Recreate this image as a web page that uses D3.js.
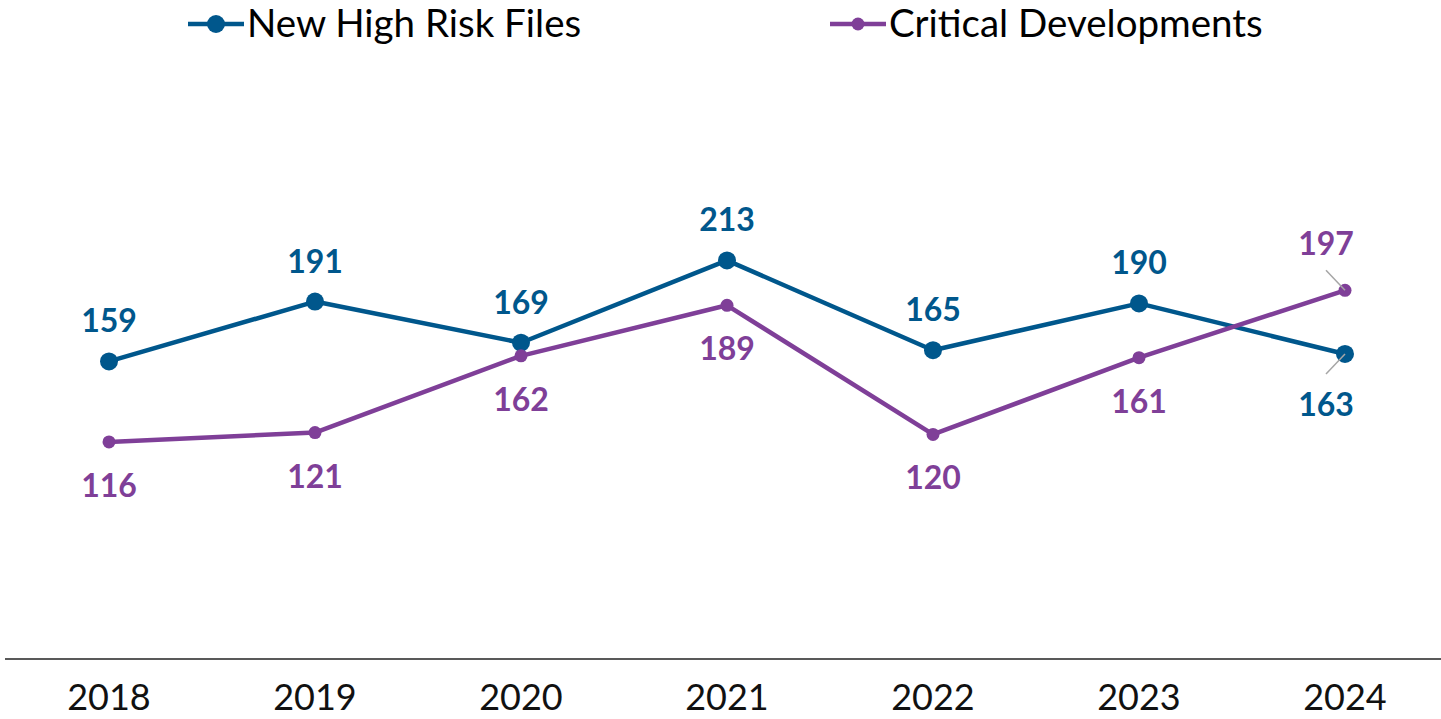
<!DOCTYPE html>
<html>
<head>
<meta charset="utf-8">
<script src="https://cdn.jsdelivr.net/npm/d3@7"></script>
<style>
  body { margin: 0; background: #fff; }
  text { font-family: Lato, "Open Sans", sans-serif; }
</style>
</head>
<body>
<div id="chart"></div>
<script>
"use strict"

const years = ["2018", "2019", "2020", "2021", "2022", "2023", "2024"];
const highRisk = [159, 191, 169, 213, 165, 190, 163];
const critical = [116, 121, 162, 189, 120, 161, 197];
// label side: -1 above, 1 below
const highRiskSide = [-1, -1, -1, -1, -1, -1, 1];
const criticalSide = [1, 1, 1, 1, 1, 1, -1];

const W = 1441, H = 719;
const blue = "#00578c", purple = "#7f3f98";

let svg = d3.select("#chart").append("svg")
    .attr("width", W)
    .attr("height", H);

let x = d3.scalePoint()
    .domain(years)
    .range([109, 1345]);

let y = d3.scaleLinear()
    .domain([0, 350])
    .range([659, 4]);

// baseline
svg.append("line")
    .attr("x1", 5).attr("x2", W)
    .attr("y1", y(0)).attr("y2", y(0))
    .style("stroke", "#222")
    .style("stroke-width", 1.5);

svg.selectAll(".year")
    .data(years)
    .enter().append("text")
    .attr("class", "year")
    .attr("x", d => x(d))
    .attr("y", 710)
    .attr("text-anchor", "middle")
    .style("font-size", "36px")
    .style("fill", "#111")
    .text(d => d);

let series = [
    { name: "New High Risk Files", values: highRisk, side: highRiskSide, color: blue, r: 9 },
    { name: "Critical Developments", values: critical, side: criticalSide, color: purple, r: 6.5 }
];

let line = d3.line()
    .x((d, i) => x(years[i]))
    .y(d => y(d));

series.forEach(s => {
    svg.append("path")
        .datum(s.values)
        .attr("d", line)
        .style("fill", "none")
        .style("stroke", s.color)
        .style("stroke-width", 4.5)
        .style("stroke-linejoin", "round");

    svg.selectAll(null)
        .data(s.values)
        .enter().append("circle")
        .attr("cx", (d, i) => x(years[i]))
        .attr("cy", d => y(d))
        .attr("r", s.r)
        .style("fill", s.color);

    svg.selectAll(null)
        .data(s.values)
        .enter().append("text")
        .attr("x", (d, i) => x(years[i]) - (i === years.length - 1 ? 19 : 0))
        .attr("y", (d, i) => {
            let last = i === years.length - 1;
            let off = s.side[i] < 0 ? (last ? -46 : -40) : (last ? 51 : 44);
            return y(d) + off + 11;
        })
        .attr("text-anchor", "middle")
        .style("font-size", "32px")
        .style("font-weight", "bold")
        .style("fill", s.color)
        .text(d => d);

    // leader line for the last point
    let lx = x(years[years.length - 1]), ly = y(s.values[s.values.length - 1]);
    let dir = s.side[s.side.length - 1];
    svg.append("line")
        .attr("x1", lx).attr("y1", ly)
        .attr("x2", lx - 19).attr("y2", ly + dir * 20)
        .style("stroke", "#a6a6a6")
        .style("stroke-width", 1.5);
});

// legend
let legendX = [188, 830];
series.forEach((s, i) => {
    let g = svg.append("g").attr("transform", `translate(${legendX[i]},24)`);
    g.append("line")
        .attr("x1", 0).attr("x2", 56)
        .attr("y1", 0).attr("y2", 0)
        .style("stroke", s.color)
        .style("stroke-width", 4.5);
    g.append("circle")
        .attr("cx", 28).attr("cy", 0)
        .attr("r", s.r)
        .style("fill", s.color);
    g.append("text")
        .attr("x", 59)
        .attr("y", 13)
        .style("font-size", "38.5px")
        .style("fill", "#000")
        .text(s.name);
});
</script>
</body>
</html>
